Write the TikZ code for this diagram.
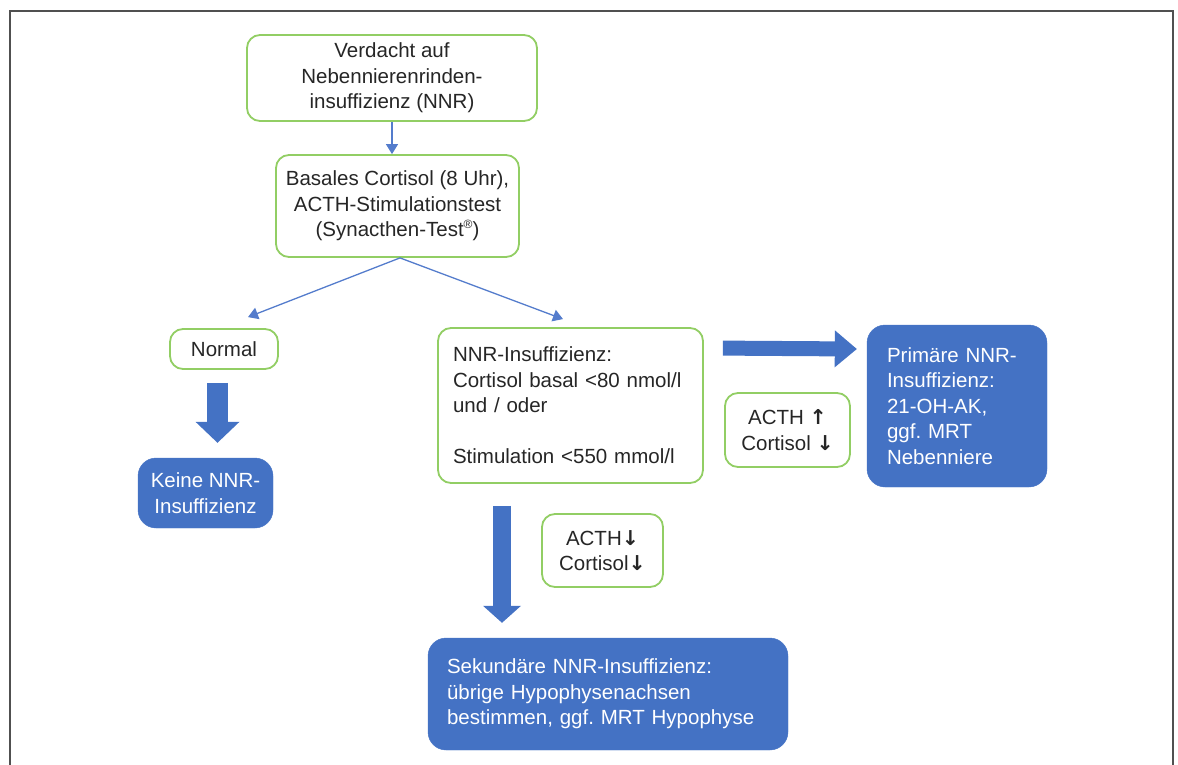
\documentclass[tikz,border=0pt]{standalone}
\usepackage{fontspec}
\setmainfont{Liberation Sans}
\newfontfamily\symfont{DejaVu Sans}
\usetikzlibrary{arrows.meta,positioning,calc}
\definecolor{nnrblue}{RGB}{68,114,196}
\definecolor{nnrgreen}{RGB}{146,206,100}
\definecolor{linkblue}{RGB}{84,124,204}
\definecolor{framegray}{RGB}{80,80,80}
\frenchspacing

\begin{document}
\begin{tikzpicture}[x=1pt,y=-1pt,
    font=\fontsize{20.5}{25.5}\selectfont,
    greenbox/.style={draw=nnrgreen,line width=1.8pt,rounded corners=13pt,fill=white,
      align=center,inner sep=0pt,text=black!85},
    bluebox/.style={draw=nnrblue,fill=nnrblue,rounded corners=18pt,
      text=white,inner sep=0pt},
    thinarr/.style={draw=linkblue,line width=1.3pt,-{Triangle[length=10pt,width=12pt]}},
    fatarr/.style n args={3}{draw=nnrblue,line width=#1,
      -{Triangle[length=#2,width=#3,line width=0pt]}}
  ]
    \useasboundingbox (0,0) rectangle (1178,765);
    \draw[framegray,line width=1.6pt] (10,765) -- (10,11) -- (1173,11) -- (1173,765);

    \node[greenbox,minimum width=290pt,minimum height=86pt] (verdacht) at (392,78)
      {Verdacht auf\\Nebennierenrinden-\\insuffizienz (NNR)};
    \node[greenbox,minimum width=243pt,minimum height=102pt] (basal) at (397.5,206)
      {Basales Cortisol (8 Uhr),\\ACTH-Stimulationstest\\(Synacthen-Test\raisebox{0.75ex}{\fontsize{12}{12}\selectfont ®})};
    \node[greenbox,minimum width=108pt,minimum height=40pt] (normal) at (224,349) {Normal};
    \node[bluebox,align=center,minimum width=135pt,minimum height=70pt] (keine) at (205.5,493)
      {Keine NNR-\\Insuffizienz};
    \node[greenbox,align=left,text width=235pt,inner xsep=15pt,minimum height=155pt]
      (insuff) at (570.5,405.5)
      {NNR-Insuffizienz:\\Cortisol basal <80 nmol/l\\und / oder\\[25.5pt]Stimulation <550 mmol/l};
    \node[greenbox,minimum width=125pt,minimum height=74pt] (acthup) at (787.5,430)
      {ACTH {\symfont\bfseries↑}\\Cortisol {\symfont\bfseries↓}};
    \node[bluebox,align=left,text width=140pt,inner xsep=20pt,minimum height=162pt]
      (primaer) at (957,406)
      {Primäre NNR-\\Insuffizienz:\\21-OH-AK,\\ggf. MRT\\Nebenniere};
    \node[greenbox,minimum width=121pt,minimum height=73pt] (acthdown) at (602.5,550.5)
      {ACTH{\symfont\bfseries↓}\\Cortisol{\symfont\bfseries↓}};
    \node[bluebox,align=left,text width=322pt,inner xsep=19pt,minimum height=112pt]
      (sek) at (608,694)
      {Sekundäre NNR-Insuffizienz:\\übrige Hypophysenachsen\\bestimmen, ggf. MRT Hypophyse};

    \draw[thinarr] (verdacht.south) -- (verdacht.south |- basal.north);
    \draw[thinarr] ([xshift=2.5pt]basal.south) -- ([xshift=24pt,yshift=11pt]normal.north);
    \draw[thinarr] ([xshift=2.5pt]basal.south) -- ([xshift=-7.5pt,yshift=8pt]insuff.north);
    \draw[fatarr={21pt}{21pt}{44pt}] ([xshift=-6.5pt,yshift=-13pt]normal.south)
      -- ([xshift=12pt,yshift=15pt]keine.north);
    \draw[fatarr={15pt}{22pt}{37pt}] ([xshift=19pt,yshift=-21pt]insuff.north east)
      -- ([xshift=-10pt,yshift=57pt]primaer.west);
    \draw[fatarr={18pt}{17pt}{38pt}] ([xshift=-68.5pt,yshift=-22pt]insuff.south)
      -- ([xshift=-106pt,yshift=15pt]sek.north);
  \end{tikzpicture}
\end{document}
